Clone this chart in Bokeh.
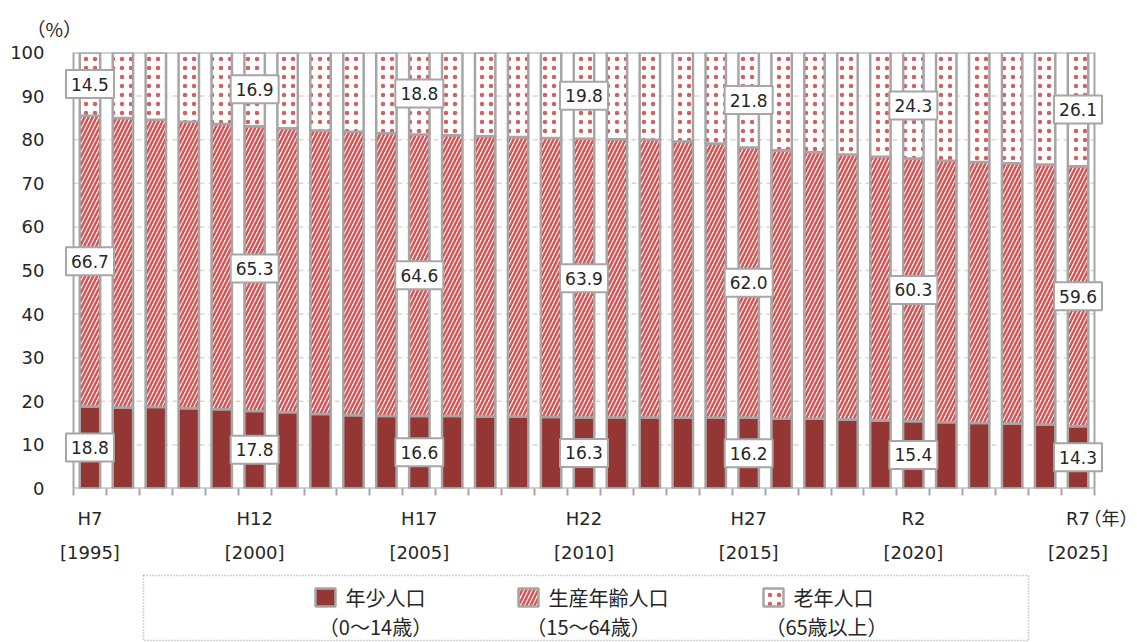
from bokeh.plotting import figure
from bokeh.models import ColumnDataSource, Range1d, FixedTicker, LinearAxis
from bokeh.layouts import column
from bokeh.core.properties import value
from bokeh.embed import file_html
from bokeh.resources import INLINE

# Population share by age group (%), 1995-2025
years = list(range(1995, 2026))
young = [18.8, 18.6, 18.7, 18.4, 18.2, 17.8, 17.5, 17.1, 16.8, 16.6,
         16.6, 16.6, 16.5, 16.5, 16.4, 16.3, 16.3, 16.3, 16.2, 16.2,
         16.2, 16.0, 16.0, 15.8, 15.6, 15.4, 15.2, 15.0, 14.9, 14.7, 14.3]
working = [66.7, 66.4, 65.9, 65.7, 65.4, 65.3, 65.1, 65.0, 65.0, 64.9,
           64.6, 64.4, 64.3, 64.1, 64.0, 63.9, 63.8, 63.7, 63.4, 62.9,
           62.0, 61.6, 61.1, 60.8, 60.5, 60.3, 60.0, 59.9, 59.7, 59.6, 59.6]
elderly = [14.5, 15.0, 15.4, 15.9, 16.4, 16.9, 17.4, 17.9, 18.2, 18.5,
           18.8, 19.0, 19.2, 19.4, 19.6, 19.8, 19.9, 20.0, 20.4, 20.9,
           21.8, 22.4, 22.9, 23.4, 23.9, 24.3, 24.8, 25.1, 25.4, 25.7, 26.1]

era_labels = ["H7", "H12", "H17", "H22", "H27", "R2", "R7"]
year_labels = ["[1995]", "[2000]", "[2005]", "[2010]", "[2015]", "[2020]", "[2025]"]
legend_names = ["年少人口", "生産年齢人口", "老年人口"]
legend_ranges = ["（0～14歳）", "（15～64歳）", "（65歳以上）"]

FONT = "DejaVu Sans"
JP = "Noto Sans CJK JP"
MIXED = "DejaVu Sans, Noto Sans CJK JP"
TXT = "#262626"
EDGE = "#a6a6a6"

# fill styles per layer: young, working, elderly
styles = dict(
    fill_color=["#943634", "#fdf3f3", "#ffffff"],
    hatch_pattern=[None, "/", "."],
    hatch_color=["#943634", "#d65454", "#d46060"],
    hatch_scale=[6, 8, 9],
    hatch_weight=[1, 2.5, 1.1],
)

n = len(years)
x = list(range(1, n + 1))
src = ColumnDataSource(dict(x=x, young=young, working=working, elderly=elderly))

# frame runs a little past the bar area so edge labels are not cut off
FL, FR = 58, 1135          # frame edges in pixels
AL, AR = 73, 1094          # bar-area edges in pixels
ppu = (AR - AL) / n
x_lo = 0.5 - (AL - FL) / ppu
x_hi = n + 0.5 + (FR - AR) / ppu

p = figure(width=1137, height=572, output_backend="svg", toolbar_location=None,
           x_range=Range1d(x_lo, x_hi), y_range=Range1d(0, 100),
           min_border_left=FL, min_border_right=1137 - FR, min_border_top=52,
           min_border_bottom=84, x_axis_type=None)
p.background_fill_color = "white"
p.border_fill_color = "white"
p.outline_line_color = None
p.xgrid.grid_line_color = None
p.ygrid.grid_line_color = None

# dashed gridlines across the bar area
grid_y = list(range(10, 100, 10))
p.segment(x0=[0.5] * len(grid_y), x1=[n + 0.5] * len(grid_y), y0=grid_y, y1=grid_y,
          line_color="#ddd9c3", line_width=1.5, line_dash="5 4")

p.vbar_stack(["young", "working", "elderly"], x="x", width=0.62, source=src,
             line_color=EDGE, line_width=2.5, **styles)

# plot-area border
p.quad(left=0.5, right=n + 0.5, bottom=0, top=100, fill_color=None,
       line_color=EDGE, line_width=2)

# y axis labels
p.yaxis.ticker = FixedTicker(ticks=list(range(0, 101, 10)))
p.yaxis.major_tick_in = 0
p.yaxis.major_tick_out = 0
p.yaxis.minor_tick_line_color = None
p.yaxis.axis_line_color = None
p.yaxis.major_label_standoff = 14
p.yaxis.major_label_text_font = FONT
p.yaxis.major_label_text_font_size = "18px"
p.yaxis.major_label_text_color = TXT

# x axes: era names with boundary ticks, then western years below
label_pos = [1, 6, 11, 16, 21, 26, 31]
bounds = [i + 0.5 for i in range(0, n + 1)]
unit_pos = 32.02
overrides = {k: v for k, v in zip(label_pos, era_labels)}
overrides[unit_pos] = "（年）"

ax1 = LinearAxis(ticker=FixedTicker(ticks=label_pos + [unit_pos], minor_ticks=bounds),
                 major_label_overrides=overrides)
ax1.axis_line_color = None
ax1.major_tick_in = 0
ax1.major_tick_out = 0
ax1.minor_tick_in = 0
ax1.minor_tick_out = 7
ax1.minor_tick_line_color = EDGE
ax1.minor_tick_line_width = 2
ax1.major_label_standoff = 12
ax1.major_label_text_font = MIXED
ax1.major_label_text_font_size = "18px"
ax1.major_label_text_color = TXT
p.add_layout(ax1, "below")

ax2 = LinearAxis(ticker=FixedTicker(ticks=label_pos, minor_ticks=[]),
                 major_label_overrides={k: v for k, v in zip(label_pos, year_labels)})
ax2.axis_line_color = None
ax2.major_tick_line_color = None
ax2.minor_tick_line_color = None
ax2.major_label_standoff = 4
ax2.major_label_text_font = FONT
ax2.major_label_text_font_size = "18px"
ax2.major_label_text_color = TXT
p.add_layout(ax2, "below")

# unit caption above the y axis
p.title.text = "（%）"
p.title.align = "left"
p.title.offset = -32
p.title.standoff = 22
p.title.text_font = JP
p.title.text_font_size = "19px"
p.title.text_font_style = "normal"
p.title.text_color = TXT

# value labels every five years, centred in each segment
idx = [i - 1 for i in label_pos]
lx, ly, lt = [], [], []
for i in idx:
    yb = young[i]
    wb = young[i] + working[i]
    for val, mid in ((young[i], yb / 2), (working[i], yb + working[i] / 2),
                     (elderly[i], wb + elderly[i] / 2)):
        lx.append(x[i])
        ly.append(mid)
        lt.append(f"{val:.1f}")
lab_src = ColumnDataSource(dict(x=lx, y=ly, t=lt))
p.rect(x="x", y="y", width=48, height=28, width_units="screen", height_units="screen",
       source=lab_src, fill_color="white", line_color=EDGE, line_width=2)
p.text(x="x", y="y", text="t", source=lab_src, text_align="center",
       text_baseline="middle", text_font=value(FONT), text_font_size="17px",
       text_color=TXT)

# legend panel (coordinates in pixels, frame aligned with the chart above)
lg = figure(width=1137, height=70, output_backend="svg", toolbar_location=None,
            x_range=Range1d(FL, FR), y_range=Range1d(70, 0),
            min_border=0, min_border_left=FL, min_border_right=1137 - FR,
            x_axis_type=None, y_axis_type=None)
lg.outline_line_color = None
lg.grid.grid_line_color = None
lg.quad(left=143, right=1028, top=3, bottom=68, fill_color=None,
        line_color=EDGE, line_width=1.5, line_dash="1 2")

sw_left = [315, 518, 763]
lg.quad(left=sw_left, right=[v + 20 for v in sw_left], top=[16] * 3, bottom=[34] * 3,
        line_color=EDGE, line_width=2.5, **styles)
lg.text(x=[v + 30 for v in sw_left], y=[25] * 3, text=legend_names,
        text_font=value(JP), text_font_size="20px", text_color=TXT,
        text_baseline="middle", text_align="left")
lg.text(x=[375, 588, 826], y=[54] * 3, text=legend_ranges,
        text_font=value(JP), text_font_size="20px", text_color=TXT,
        text_baseline="middle", text_align="center")

layout = column(p, lg, spacing=0)
open("out.html", "w").write(file_html(layout, INLINE))
